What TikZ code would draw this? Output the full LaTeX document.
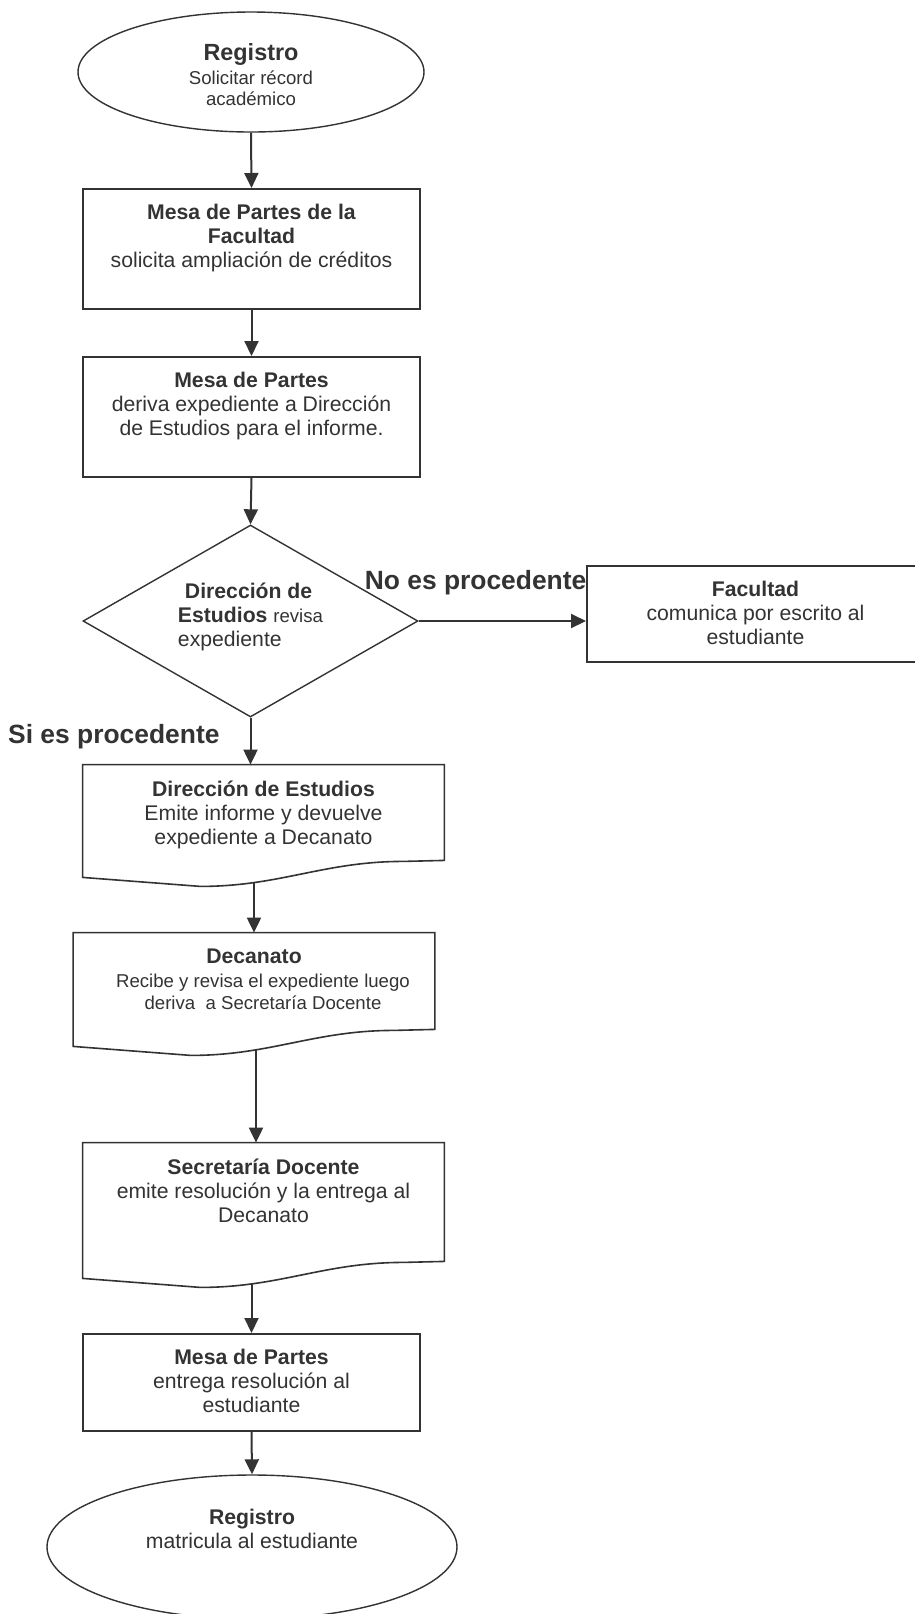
\documentclass[tikz,border=0pt]{standalone}
\usepackage{fontspec}
\setmainfont{Liberation Sans}
\usetikzlibrary{arrows.meta,calc,positioning,shapes.geometric}
\definecolor{ink}{HTML}{333333}

\tikzset{
  outline/.style={draw=ink,line width=0.8pt},
  arr/.style={draw=ink,line width=1pt,-{Triangle[length=7.5pt,width=7pt]}},
  box/.style={rectangle,draw=ink,line width=1pt,inner sep=0pt,minimum width=168.5pt,minimum height=#1},
  docu/.style={rectangle,inner sep=0pt,minimum width=180.5pt,minimum height=#1},
  term/.style={ellipse,draw=ink,line width=0.7pt,inner sep=0pt},
  decision/.style={diamond,draw=ink,line width=0.7pt,inner sep=0pt,minimum width=167.5pt,minimum height=96pt},
  txt/.style={align=center,inner sep=0pt,text=ink,font=\fontsize{10.6}{12}\selectfont},
  lab/.style={inner sep=0pt,text=ink,font=\fontsize{13.2}{15}\selectfont\bfseries}
}

\begin{document}
\begin{tikzpicture}[x=0.5pt,y=-0.5pt]
  \useasboundingbox[fill=white] (0,0) rectangle (915,1614);

  \node[term,minimum width=173pt,minimum height=60pt] (registro) at (251,72) {};
  \node[txt,below=15.7pt of registro.north] (registro-t) {{\fontsize{11.7}{14}\selectfont\bfseries Registro}\\ \fontsize{9.3}{11}\selectfont Solicitar récord\\[-1.5pt] \fontsize{9.3}{11}\selectfont académico};

  \node[box=60pt] (mesaf) at (251.5,249) {};
  \node[txt,below=8pt of mesaf.north] (mesaf-t) {\textbf{Mesa de Partes de la}\\ \textbf{Facultad}\\ solicita ampliación de créditos};

  \node[box=60pt] (mesad) at (251.5,417) {};
  \node[txt,below=8pt of mesad.north] (mesad-t) {\textbf{Mesa de Partes}\\ deriva expediente a Dirección\\ de Estudios para el informe.};

  \node[decision] (revisa) at (250.5,621) {};
  \node[txt,align=left,below=29pt of revisa.north] (revisa-t) {\hspace*{3.5pt}\textbf{Dirección de}\\ \textbf{Estudios} {\fontsize{9.3}{11}\selectfont revisa}\\ expediente};

  \node[box=48pt] (facultad) at (755.5,614) {};
  \node[txt,below=8pt of facultad.north] (facultad-t) {\textbf{Facultad}\\ comunica por escrito al\\ estudiante};

  \node[docu=56pt] (informe) at (263.5,821) {};
  \node[txt,below=8pt of informe.north] (informe-t) {\textbf{Dirección de Estudios}\\ Emite informe y devuelve\\ expediente a Decanato};

  \node[docu=56.5pt] (decanato) at (254,989.5) {};
  \node[txt,below=8pt of decanato.north] (decanato-t) {\textbf{Decanato}\\ \fontsize{9.3}{11}\selectfont\hspace*{9pt}Recibe y revisa el expediente luego\\[-1pt] \fontsize{9.3}{11}\selectfont\hspace*{9pt}deriva\ \ a Secretaría Docente};

  \node[docu=67.5pt] (secdoc) at (263.5,1210.5) {};
  \node[txt,below=8pt of secdoc.north] (secdoc-t) {\textbf{Secretaría Docente}\\ emite resolución y la entrega al\\ Decanato};

  \node[box=48.5pt] (entrega) at (251.5,1382.5) {};
  \node[txt,below=8pt of entrega.north] (entrega-t) {\textbf{Mesa de Partes}\\ entrega resolución al\\ estudiante};

  \node[term,minimum width=205pt,minimum height=72pt] (matricula) at (252,1547) {};
  \node[txt,below=17pt of matricula.north] (matricula-t) {\textbf{Registro}\\ matricula al estudiante};

  \draw[outline] (informe.south west) -- (informe.north west) -- (informe.north east) -- ($(informe.south east)+(0,-17)$) -- ++(-41,1) to[out=180,in=0] ++(-203,25) -- cycle;
  \draw[outline] (decanato.south west) -- (decanato.north west) -- (decanato.north east) -- ($(decanato.south east)+(0,-17)$) -- ++(-41,1) to[out=180,in=0] ++(-203,25) -- cycle;
  \draw[outline] (secdoc.south west) -- (secdoc.north west) -- (secdoc.north east) -- ($(secdoc.south east)+(0,-17)$) -- ++(-41,1) to[out=180,in=0] ++(-203,25) -- cycle;

  \draw[arr] (registro.south) -- (mesaf.north);
  \draw[arr] (mesaf.south) -- (mesad.north);
  \draw[arr] (mesad.south) -- (revisa.north);
  \draw[arr] (revisa.east) -- node[lab,above=12.7pt,pos=0.34] (no) {No es procedente} (revisa.east -| facultad.west);
  \draw[arr] (revisa.south) -- node[lab,left=15pt,pos=0.4] (si) {Si es procedente} (revisa.south |- informe.north);
  \draw[arr] ($(informe.south -| decanato.north)+(0,5)$) -- (decanato.north);
  \draw[arr] ($(decanato.south)+(2,4)$) -- ($(decanato.south |- secdoc.north)+(2,0)$);
  \draw[arr] ($(secdoc.south -| entrega.north)+(0,5)$) -- (entrega.north);
  \draw[arr] (entrega.south) -- (matricula.north);
\end{tikzpicture}
\end{document}
